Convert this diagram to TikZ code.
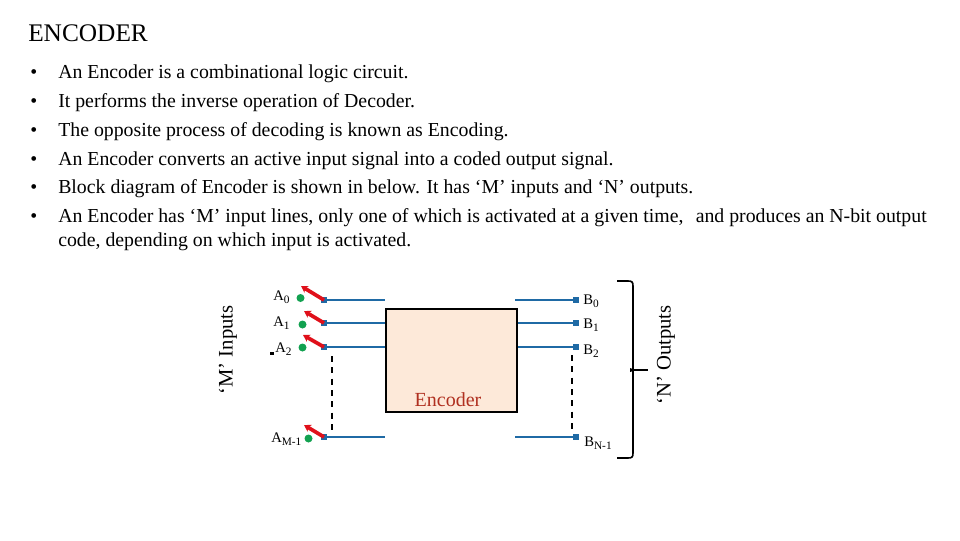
\documentclass[tikz,border=0pt]{standalone}
\usepackage{fontspec}
\setmainfont{Liberation Serif}
\newcommand{\lblsub}[2]{#1\raisebox{-0.45ex}{\fontsize{8.5pt}{9pt}\selectfont #2}}
\definecolor{wireblue}{HTML}{1F6AA5}
\definecolor{swred}{HTML}{E0101A}
\definecolor{dotgreen}{HTML}{12A150}
\definecolor{boxfill}{HTML}{FDE9D9}
\definecolor{enctext}{HTML}{B03020}
\usetikzlibrary{arrows.meta}
\tikzset{
  x=0.75pt,y=-0.75pt,
  heading/.style={anchor=base west,inner sep=0,font=\fontsize{19pt}{21pt}\selectfont},
  bodytext/.style={anchor=base west,inner sep=0,font=\fontsize{14.85pt}{16pt}\selectfont},
  pinlabel/.style={anchor=base west,inner sep=0,font=\fontsize{11pt}{12pt}\selectfont},
  sidelabel/.style={rotate=90,inner sep=0,font=\fontsize{15.5pt}{17pt}\selectfont},
  wire/.style={draw=wireblue,line width=2.2pt},
  swarm/.style={draw=swred,line width=2.8pt,-{Stealth[length=5pt,width=6pt]}},
  gdot/.style={circle,fill=dotgreen,inner sep=0,minimum size=6pt},
  bdot/.style={rectangle,fill=wireblue,inner sep=0,minimum size=4.5pt},
  gap/.style={draw=black,line width=1.8pt,dash pattern=on 4.5pt off 4pt},
}
\begin{document}
\begin{tikzpicture}
\useasboundingbox (0,0) rectangle (960,540);
\node[heading] (title) at (28,41) {ENCODER};
\foreach \yy/\tt [count=\i] in {
 78/{An Encoder is a combinational logic circuit.},
 107.7/{It performs the inverse operation of Decoder.},
 136.7/{The opposite process of decoding is known as Encoding.},
 165.7/{An Encoder converts an active input signal into a coded output signal.},
 193.7/{Block diagram of Encoder is shown in below. It has ‘M’ inputs and ‘N’ outputs.},
 222.7/{An Encoder has ‘M’ input lines, only one of which is activated at a given time,\hspace{5.5pt} and produces an N-bit output}}{
  \node[bodytext] (bul\i) at (30,\yy) {•};
  \node[bodytext] (line\i) at (58,\yy) {\tt};
}
\node[bodytext] (line7) at (58,246.7) {code, depending on which input is activated.};

\node[draw=black,line width=1.6pt,fill=boxfill,minimum width=98.5pt,minimum height=77.5pt,inner sep=0,anchor=north west] (enc) at (385,308) {};
\node[anchor=base,inner sep=0,text=enctext,font=\fontsize{15pt}{17pt}\selectfont] (enclabel) at (448,406) {Encoder};

\foreach \n/\yy/\gx/\gy/\rx/\ry in {a/300/300.5/298/301/286, b/323/302.5/324.5/304/311, c/347/302.5/347.5/303/335, d/437/308.5/438.5/304/425}{
  \node[bdot] (\n-in) at (324,\yy) {};
  \coordinate (\n-left) at (385,\yy);
  \node[bdot] (\n-out) at (576,\yy) {};
  \coordinate (\n-tip) at (\rx,\ry);
  \node[gdot] (\n-g) at (\gx,\gy) {};
  \draw[wire] (\n-in.center) -- (\n-left);
  \draw[swarm] (\n-in.center) -- (\n-tip);
}
\coordinate (ar) at (515,300);
\coordinate (dr) at (515,437);
\draw[wire] (ar) -- (a-out.center);
\draw[wire] (enc.east |- b-out) -- (b-out.center);
\draw[wire] (enc.east |- c-out) -- (c-out.center);
\draw[wire] (dr) -- (d-out.center);

\coordinate (ldtop) at (332,356);
\coordinate (ldbot) at (332,431);
\coordinate (rdtop) at (572,355);
\coordinate (rdbot) at (572,431);
\draw[gap] (ldtop) -- (ldbot);
\draw[gap] (rdtop) -- (rdbot);

\node[pinlabel] (A0) at (273,300) {\lblsub{A}{0}};
\node[pinlabel] (A1) at (273,326) {\lblsub{A}{1}};
\node[pinlabel] (A2) at (275,352) {\lblsub{A}{2}};
\node[pinlabel] (AM) at (271,442) {\lblsub{A}{M-1}};
\node[pinlabel] (B0) at (583,304) {\lblsub{B}{0}};
\node[pinlabel] (B1) at (583,328) {\lblsub{B}{1}};
\node[pinlabel] (B2) at (583,354) {\lblsub{B}{2}};
\node[pinlabel] (BN) at (584,446) {\lblsub{B}{N-1}};
\fill[black] (270,352) rectangle (274,354.5);

\node[sidelabel] (minputs) at (228,350) {‘M’ Inputs};
\node[sidelabel] (noutputs) at (666,355) {‘N’ Outputs};

\coordinate (brtop) at (617,281);
\coordinate (brbot) at (617,458);
\coordinate (brmid) at (633,370);
\coordinate (brtick) at (648,370);
\draw[black,line width=1.2pt] (brtop) -- (628,281) .. controls (632,281) and (633,282) .. (633,286) -- (brmid) -- (633,453) .. controls (633,457) and (632,458) .. (628,458) -- (brbot);
\draw[black,line width=1.2pt] (brmid) -- (brtick);
\fill[black] (630,368) -- (636,370) -- (630,372) -- cycle;
\end{tikzpicture}
\end{document}
